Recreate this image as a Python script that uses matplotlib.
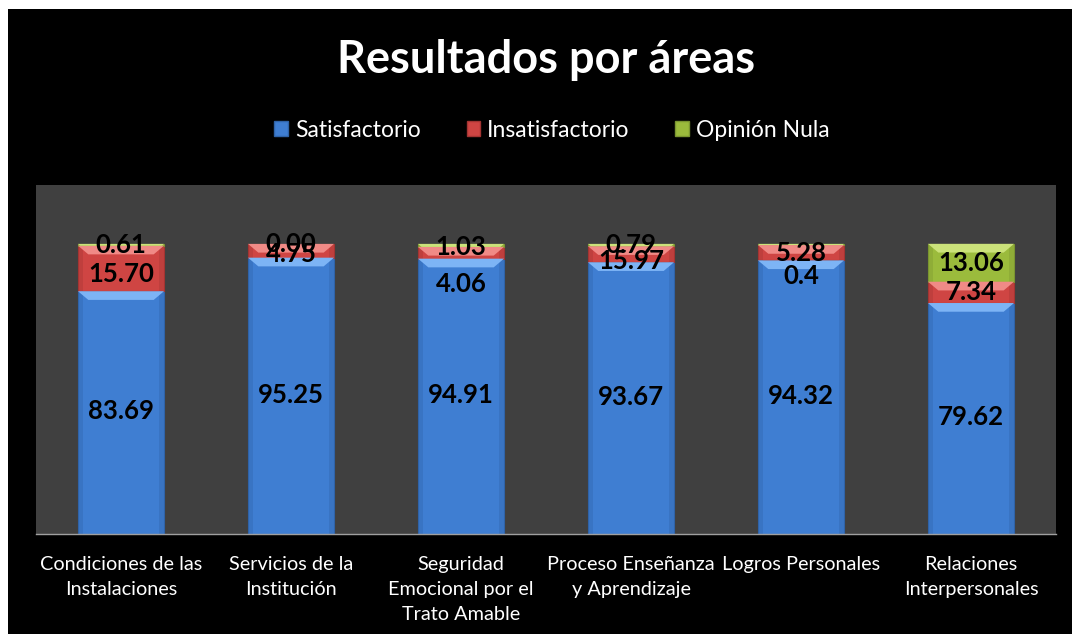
#!/usr/bin/env python3
"""Stacked bar chart: Resultados por áreas."""

import matplotlib
matplotlib.use("Agg")
import matplotlib.pyplot as plt
from matplotlib.patches import Polygon, Rectangle
import numpy as np

plt.rcParams["font.family"] = ["Lato", "DejaVu Sans"]

categories = [
    "Condiciones de las\nInstalaciones",
    "Servicios de la\nInstitución",
    "Seguridad\nEmocional por el\nTrato Amable",
    "Proceso Enseñanza\ny Aprendizaje",
    "Logros Personales",
    "Relaciones\nInterpersonales",
]
series_names = ["Satisfactorio", "Insatisfactorio", "Opinión Nula"]
satisfactorio = [83.69, 95.25, 94.91, 93.67, 94.32, 79.62]
insatisfactorio = [15.70, 4.75, 4.06, 5.54, 5.28, 7.34]
opinion_nula = [0.61, 0.00, 1.03, 0.79, 0.40, 13.06]
# labels as printed on the original chart (one of them does not match its bar)
label_satisf = ["83.69", "95.25", "94.91", "93.67", "94.32", "79.62"]
label_insat = ["15.70", "4.75", "4.06", "15.97", "5.28", "7.34"]
label_nula = ["0.61", "0.00", "1.03", "0.79", "0.4", "13.06"]

COLORS = {
    "blue": ("#3F7ED2", "#7DB4F5", "#2F63A8"),
    "red": ("#CF4543", "#F08A86", "#A33432"),
    "green": ("#9BBB3C", "#CBE27A", "#7A9530"),
}
COLOR_KEYS = ["blue", "red", "green"]
PLOT_BG = "#404040"

# manual label nudges (data units), like the hand-moved labels of the original
LABEL_NUDGE = {
    (0, 1): -2.0, (0, 2): 0.0,
    (1, 1): -1.0, (1, 2): 0.0,
    (2, 1): -10.7, (2, 2): -0.7,
    (3, 1): -2.5, (3, 2): 0.0,
    (4, 1): 0.0, (4, 2): -10.8,
}


def draw_bevel_bar(ax, x, bottom, height, width, key):
    base, light, dark = COLORS[key]
    if height <= 0:
        return
    left = x - width / 2
    ax.add_patch(Rectangle((left, bottom), width, height, facecolor=base,
                           edgecolor=dark, linewidth=0.8, zorder=2))
    # soft darker side strips
    side = width * 0.06
    ax.add_patch(Rectangle((left, bottom), side, height, facecolor=dark,
                           alpha=0.35, linewidth=0, zorder=2.1))
    ax.add_patch(Rectangle((left + width - side, bottom), side, height,
                           facecolor=dark, alpha=0.35, linewidth=0, zorder=2.1))
    # lighter bevel at the top
    bev = min(3.0, height)
    inset = width * 0.12 * bev / 3.0
    top = bottom + height
    ax.add_patch(Polygon([(left, top), (left + width, top),
                          (left + width - inset, top - bev), (left + inset, top - bev)],
                         closed=True, facecolor=light, edgecolor="none", zorder=2.2))


fig = plt.figure(figsize=(10.72, 6.34), dpi=100, facecolor="white")
fig.patches.append(Rectangle((8 / 1072, 0), 1 - 8 / 1072, 1 - 9 / 634,
                             transform=fig.transFigure, facecolor="black",
                             edgecolor="none", zorder=-5))

ax = fig.add_axes([36 / 1072, 100 / 634, 1020 / 1072, 349 / 634])
ax.set_facecolor(PLOT_BG)
ax.set_xlim(-0.5, len(categories) - 0.5)
ax.set_ylim(0, 120.3)

x = np.arange(len(categories))
width = 0.506
stack = [satisfactorio, insatisfactorio, opinion_nula]
labels = [label_satisf, label_insat, label_nula]
bottoms = np.zeros(len(categories))
for s, (values, key) in enumerate(zip(stack, COLOR_KEYS)):
    for i, v in enumerate(values):
        draw_bevel_bar(ax, x[i], bottoms[i], v, width, key)
        yc = bottoms[i] + v / 2 + LABEL_NUDGE.get((i, s), 0.0)
        if s == 0:
            yc += 0.4
        ax.text(x[i], yc, labels[s][i], ha="center", va="center",
                fontsize=18.5, fontweight="bold", color="black", zorder=5)
    bottoms += np.array(values)

ax.set_yticks([])
ax.set_xticks(x)
ax.set_xticklabels(categories, color="white", fontsize=14.3, linespacing=1.55,
                   va="top")
ax.tick_params(axis="x", length=0, pad=16)
for side in ["top", "right", "left"]:
    ax.spines[side].set_visible(False)
ax.spines["bottom"].set_color("#A0A0A0")
ax.spines["bottom"].set_linewidth(1.0)

fig.text(546 / 1072, 1 - 60 / 634, "Resultados por áreas", ha="center", va="center",
         fontsize=32.5, fontweight="bold", color="white")

handles = [Rectangle((0, 0), 1, 1, facecolor=COLORS[k][0], edgecolor=COLORS[k][2])
           for k in COLOR_KEYS]
fig.legend(handles, series_names, loc="center", bbox_to_anchor=(552 / 1072, 1 - 130 / 634),
           ncol=3, frameon=False, fontsize=16.5, labelcolor="white",
           handlelength=0.6, handleheight=0.6, handletextpad=0.3, columnspacing=2.0)

fig.savefig("out.png", dpi=100, facecolor=fig.get_facecolor())
